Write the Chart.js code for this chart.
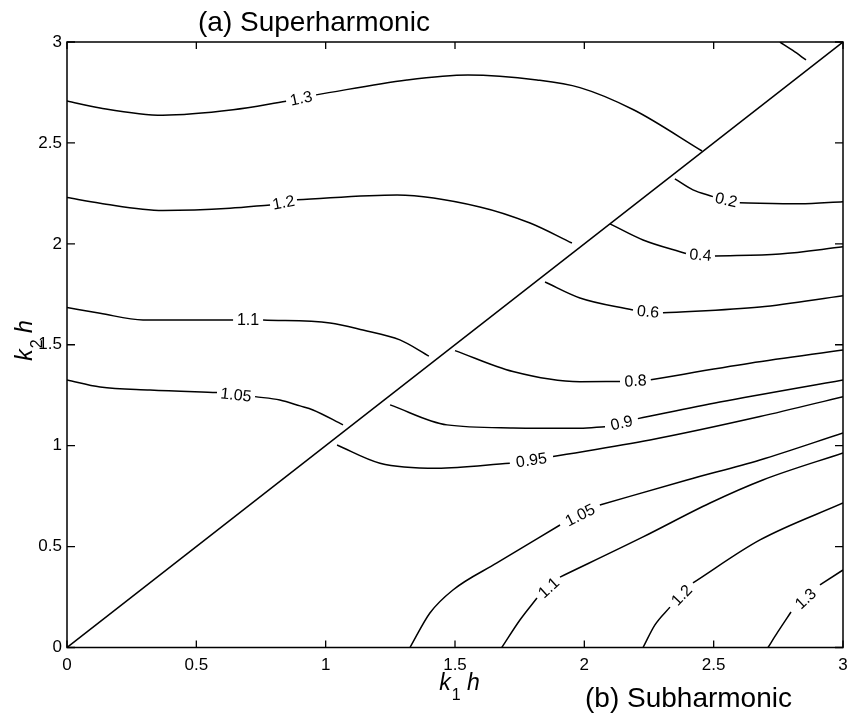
<!DOCTYPE html>
<html>
<head>
<meta charset="utf-8">
<script src="https://cdn.jsdelivr.net/npm/chart.js@4.4.0/dist/chart.umd.min.js"></script>
<style>
  html, body { margin: 0; padding: 0; background: #fff; }
</style>
</head>
<body>
<canvas id="contourChart" width="849" height="717"></canvas>
<script>
var xTicks = [0, 0.5, 1, 1.5, 2, 2.5, 3];
var yTicks = [0, 0.5, 1, 1.5, 2, 2.5, 3];

// k2 = k1 line separating the two branches
var diagonal = [[0, 0], [3, 3]];

// superharmonic branch (above the diagonal), [k1 h, k2 h]
var sup14 = [[2.756, 3.0], [2.806, 2.958], [2.857, 2.911]];
var sup13a = [[0, 2.708], [0.128, 2.673], [0.37, 2.637], [0.642, 2.664], [0.847, 2.706]];
var sup13b = [[0.963, 2.738], [1.314, 2.812], [1.55, 2.837], [1.817, 2.812], [1.983, 2.774], [2.192, 2.663], [2.455, 2.46]];
var sup12a = [[0, 2.229], [0.128, 2.201], [0.371, 2.165], [0.63, 2.176], [0.785, 2.193]];
var sup12b = [[0.889, 2.218], [1.276, 2.242], [1.596, 2.183], [1.79, 2.103], [1.952, 2.004]];
var sup11a = [[0, 1.684], [0.128, 1.656], [0.294, 1.623], [0.642, 1.623]];
var sup11b = [[0.758, 1.623], [1.017, 1.608], [1.144, 1.573], [1.287, 1.524], [1.399, 1.444]];
var sup105a = [[0, 1.326], [0.128, 1.291], [0.321, 1.276], [0.58, 1.263]];
var sup105b = [[0.727, 1.243], [0.823, 1.226], [0.901, 1.197], [0.951, 1.177], [1.067, 1.103]];

// subharmonic branch (below the diagonal)
var sub02a = [[2.35, 2.322], [2.42, 2.267], [2.497, 2.234]];
var sub02b = [[2.601, 2.204], [2.833, 2.198], [3, 2.209]];
var sub04a = [[2.099, 2.099], [2.227, 2.019], [2.393, 1.952]];
var sub04b = [[2.505, 1.94], [2.756, 1.95], [3, 1.985]];
var sub06a = [[1.848, 1.811], [1.983, 1.732], [2.188, 1.672]];
var sub06b = [[2.304, 1.658], [2.679, 1.687], [3, 1.743]];
var sub08a = [[1.5, 1.471], [1.724, 1.367], [1.983, 1.317], [2.138, 1.318]];
var sub08b = [[2.257, 1.327], [2.64, 1.408], [3, 1.474]];
var sub09a = [[1.249, 1.202], [1.469, 1.103], [1.724, 1.088], [1.983, 1.086], [2.08, 1.094]];
var sub09b = [[2.207, 1.134], [2.524, 1.216], [3, 1.326]];
var sub095a = [[1.044, 1.003], [1.21, 0.913], [1.43, 0.888], [1.712, 0.913]];
var sub095b = [[1.879, 0.946], [2.254, 1.028], [2.679, 1.144], [3, 1.243]];
var sub105a = [[1.326, 0], [1.403, 0.171], [1.492, 0.285], [1.662, 0.419], [1.906, 0.607]];
var sub105b = [[2.06, 0.706], [2.397, 0.83], [2.679, 0.929], [3, 1.063]];
var sub11a = [[1.681, 0], [1.751, 0.136], [1.817, 0.245]];
var sub11b = [[1.906, 0.349], [2.227, 0.548], [2.486, 0.716], [2.69, 0.83], [3, 0.964]];
var sub12a = [[2.227, 0], [2.273, 0.112], [2.331, 0.2]];
var sub12b = [[2.42, 0.32], [2.679, 0.533], [3, 0.716]];
var sub13a = [[2.71, 0], [2.748, 0.077], [2.799, 0.176]];
var sub13b = [[2.911, 0.31], [3, 0.384]];

// each labelled contour is split in two; its level is written in the gap
var contours = [
  { level: null, pieces: [diagonal] },
  { level: null, pieces: [sup14] },
  { level: '1.3', pieces: [sup13a, sup13b] },
  { level: '1.2', pieces: [sup12a, sup12b] },
  { level: '1.1', pieces: [sup11a, sup11b] },
  { level: '1.05', pieces: [sup105a, sup105b] },
  { level: '0.2', pieces: [sub02a, sub02b] },
  { level: '0.4', pieces: [sub04a, sub04b] },
  { level: '0.6', pieces: [sub06a, sub06b] },
  { level: '0.8', pieces: [sub08a, sub08b] },
  { level: '0.9', pieces: [sub09a, sub09b] },
  { level: '0.95', pieces: [sub095a, sub095b] },
  { level: '1.05', pieces: [sub105a, sub105b] },
  { level: '1.1', pieces: [sub11a, sub11b] },
  { level: '1.2', pieces: [sub12a, sub12b] },
  { level: '1.3', pieces: [sub13a, sub13b] }
];

var FONT = '"Liberation Sans", Arial, Helvetica, sans-serif';

var datasets = [];
contours.forEach(function (c) {
  c.pieces.forEach(function (p) {
    datasets.push({
      data: p.map(function (q) { return { x: q[0], y: q[1] }; }),
      showLine: true,
      borderColor: '#000',
      borderWidth: 1.5,
      pointRadius: 0,
      cubicInterpolationMode: 'monotone',
      fill: false
    });
  });
});

// writes the level into each contour gap, turned along the line
var contourLabels = {
  id: 'contourLabels',
  afterDatasetsDraw: function (chart) {
    var ctx = chart.ctx, sx = chart.scales.x, sy = chart.scales.y;
    ctx.save();
    ctx.font = '16px ' + FONT;
    ctx.fillStyle = '#000';
    ctx.textAlign = 'center';
    ctx.textBaseline = 'middle';
    contours.forEach(function (c) {
      if (!c.level) return;
      var a = c.pieces[0][c.pieces[0].length - 1];
      var b = c.pieces[1][0];
      var x1 = sx.getPixelForValue(a[0]), y1 = sy.getPixelForValue(a[1]);
      var x2 = sx.getPixelForValue(b[0]), y2 = sy.getPixelForValue(b[1]);
      var ang = Math.atan2(y2 - y1, x2 - x1);
      if (ang > Math.PI / 2) ang -= Math.PI;
      if (ang < -Math.PI / 2) ang += Math.PI;
      ctx.save();
      ctx.translate((x1 + x2) / 2, (y1 + y2) / 2);
      ctx.rotate(ang);
      ctx.fillText(c.level, 0, 1);
      ctx.restore();
    });
    ctx.restore();
  }
};

function drawSubLabel(ctx, base, sub, tail) {
  ctx.textAlign = 'left';
  ctx.textBaseline = 'alphabetic';
  ctx.font = 'italic 23px ' + FONT;
  var w1 = ctx.measureText(base).width;
  ctx.font = '16px ' + FONT;
  var w2 = ctx.measureText(sub).width;
  ctx.font = 'italic 23px ' + FONT;
  var w3 = ctx.measureText(tail).width;
  var x = -(w1 + w2 + w3) / 2;
  ctx.fillText(base, x, 0);
  ctx.font = '16px ' + FONT;
  ctx.fillText(sub, x + w1 + 1, 10);
  ctx.font = 'italic 23px ' + FONT;
  ctx.fillText(tail, x + w1 + w2 + 1, 0);
}

// box, inward ticks on all four sides, axis titles and branch names
var frame = {
  id: 'frame',
  afterDraw: function (chart) {
    var ctx = chart.ctx, a = chart.chartArea, sx = chart.scales.x, sy = chart.scales.y;
    ctx.save();
    ctx.strokeStyle = '#000';
    ctx.lineWidth = 1.5;
    ctx.strokeRect(a.left, a.top, a.right - a.left, a.bottom - a.top);
    ctx.lineWidth = 1.3;
    ctx.beginPath();
    xTicks.forEach(function (v) {
      var px = sx.getPixelForValue(v);
      ctx.moveTo(px, a.bottom); ctx.lineTo(px, a.bottom - 7);
      ctx.moveTo(px, a.top); ctx.lineTo(px, a.top + 7);
    });
    yTicks.forEach(function (v) {
      var py = sy.getPixelForValue(v);
      ctx.moveTo(a.left, py); ctx.lineTo(a.left + 8, py);
      ctx.moveTo(a.right, py); ctx.lineTo(a.right - 8, py);
    });
    ctx.stroke();

    ctx.fillStyle = '#000';
    ctx.save();
    ctx.translate(459, 690);
    drawSubLabel(ctx, 'k', '1', ' h');
    ctx.restore();

    ctx.save();
    ctx.translate(32, 341);
    ctx.rotate(-Math.PI / 2);
    drawSubLabel(ctx, 'k', '2', ' h');
    ctx.restore();

    ctx.font = '28px ' + FONT;
    ctx.textAlign = 'left';
    ctx.textBaseline = 'alphabetic';
    ctx.fillText('(a) Superharmonic', 198, 31);
    ctx.fillText('(b) Subharmonic', 585, 707);
    ctx.restore();
  }
};

var axisTicks = function (list) {
  return function (scale) {
    scale.ticks = list.map(function (v) { return { value: v }; });
  };
};

var myChart = new Chart(document.getElementById('contourChart'), {
  type: 'scatter',
  data: { datasets: datasets },
  options: {
    responsive: false,
    animation: false,
    events: [],
    layout: { padding: { top: 42, right: 6, left: 0, bottom: 0 } },
    plugins: {
      legend: { display: false },
      tooltip: { enabled: false },
      title: { display: false }
    },
    scales: {
      x: {
        type: 'linear',
        min: 0,
        max: 3,
        afterBuildTicks: axisTicks(xTicks),
        afterFit: function (scale) {
          scale.height = 69.5;
          scale.paddingLeft = 0;
          scale.paddingRight = 0;
        },
        grid: { display: false, drawTicks: false },
        border: { display: false },
        ticks: {
          color: '#000',
          font: { family: FONT, size: 17 },
          padding: 8,
          maxRotation: 0,
          callback: function (v) { return String(v); }
        }
      },
      y: {
        type: 'linear',
        min: 0,
        max: 3,
        afterBuildTicks: axisTicks(yTicks),
        afterFit: function (scale) {
          scale.width = 67;
          scale.paddingTop = 0;
          scale.paddingBottom = 0;
        },
        grid: { display: false, drawTicks: false },
        border: { display: false },
        ticks: {
          color: '#000',
          font: { family: FONT, size: 17 },
          padding: 5,
          callback: function (v) { return String(v); }
        }
      }
    }
  },
  plugins: [contourLabels, frame]
});
</script>
</body>
</html>
